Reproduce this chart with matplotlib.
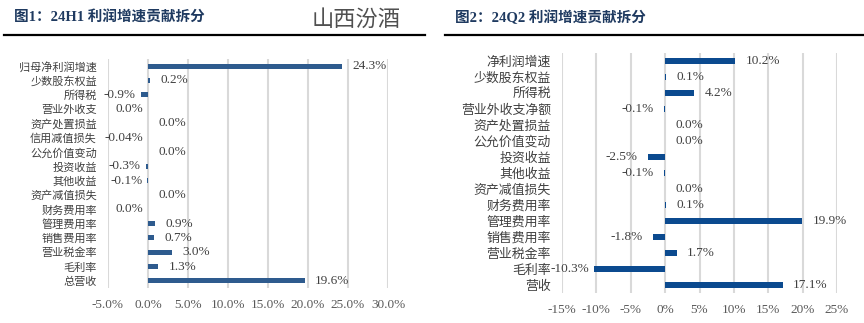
import matplotlib
matplotlib.use("Agg")
import matplotlib.pyplot as plt
from matplotlib.lines import Line2D

# 24H1 profit growth contribution breakdown (percentage points)
h1_categories = ["归母净利润增速", "少数股东权益", "所得税", "营业外收支", "资产处置损益",
                 "信用减值损失", "公允价值变动", "投资收益", "其他收益", "资产减值损失",
                 "财务费用率", "管理费用率", "销售费用率", "营业税金率", "毛利率", "总营收"]
h1_values = [24.3, 0.2, -0.9, -0.03, 0.0, -0.04, 0.0, -0.3, -0.1, 0.0,
             -0.03, 0.9, 0.7, 3.0, 1.3, 19.6]
h1_decimals = [1, 1, 1, 1, 1, 2, 1, 1, 1, 1, 1, 1, 1, 1, 1, 1]
h1_ticks = [-5, 0, 5, 10, 15, 20, 25, 30]

# 24Q2 profit growth contribution breakdown (percentage points)
q2_categories = ["净利润增速", "少数股东权益", "所得税", "营业外收支净额", "资产处置损益",
                 "公允价值变动", "投资收益", "其他收益", "资产减值损失", "财务费用率",
                 "管理费用率", "销售费用率", "营业税金率", "毛利率", "营收"]
q2_values = [10.2, 0.1, 4.2, -0.1, 0.0, 0.0, -2.5, -0.1, 0.0, 0.1,
             19.9, -1.8, 1.7, -10.3, 17.1]
q2_ticks = [-15, -10, -5, 0, 5, 10, 15, 20, 25]

SERIF = "Liberation Serif"
CJK = "Noto Sans CJK SC"
GRID = "#D9D9D9"
TXT = "#404040"


def fmt(v, d):
    s = f"{v:.{d}f}%"
    return "0.0%" if s == "-0.0%" else s


def draw(ax, cats, vals, decs, ticks, color, tick_fmt, cat_size, bar_h):
    y = list(range(len(cats)))
    ax.barh(y, vals, height=bar_h, color=color, zorder=3)
    ax.set_ylim(len(cats) - 0.5, -0.5)
    ax.set_xlim(ticks[0], ticks[-1])
    ax.set_xticks(ticks)
    ax.set_xticklabels([tick_fmt(t) for t in ticks], family=SERIF,
                       fontsize=9.5, color="#595959")
    ax.set_yticks(y)
    ax.set_yticklabels(cats, family=CJK, fontsize=cat_size, color=TXT)
    ax.tick_params(axis="both", length=0)
    ax.tick_params(axis="y", pad=8)
    ax.tick_params(axis="x", pad=8)
    for s in ax.spines.values():
        s.set_visible(False)
    ax.grid(axis="x", color=GRID, linewidth=1.5, zorder=0)
    for yi, v, d in zip(y, vals, decs):
        if v >= 0:
            off = 7.5
        elif v - ticks[0] < 6:
            # keep labels of long negative bars close to the bar end
            off = -3.5
        else:
            off = -7.5
        ax.annotate(fmt(v, d), (v, yi), xytext=(off, 0), textcoords="offset points",
                    ha="left" if v >= 0 else "right", va="center",
                    family=SERIF, fontsize=9.5, color=TXT, zorder=4)


fig = plt.figure(figsize=(8.64, 3.23), dpi=100)

ax1 = fig.add_axes([108 / 864, 35 / 323, 280 / 864, 229 / 323])
draw(ax1, h1_categories, h1_values, h1_decimals, h1_ticks, "#2E5B8E",
     lambda t: f"{t:.1f}%", 8.0, 0.36)

ax2 = fig.add_axes([562 / 864, 30 / 323, 275 / 864, 240 / 323])
draw(ax2, q2_categories, q2_values, [1] * len(q2_values), q2_ticks, "#0B4A8F",
     lambda t: f"{t:d}%", 9.3, 0.32)

# Headers
title_fam = [SERIF, CJK]
fig.text(14 / 864, 1 - 18 / 323, "图1：24H1 利润增速贡献拆分", family=title_fam,
         fontsize=10.5, fontweight="bold", color="#1F3A60", va="center", ha="left")
fig.text(455 / 864, 1 - 18 / 323, "图2：24Q2 利润增速贡献拆分", family=title_fam,
         fontsize=10.5, fontweight="bold", color="#1F3A60", va="center", ha="left")
fig.text(312 / 864, 1 - 19 / 323, "山西汾酒", family=CJK, fontsize=16,
         color="#505050", va="center", ha="left")

fig.add_artist(Line2D([4 / 864, 425 / 864], [1 - 34.5 / 323] * 2, color="black",
                      linewidth=1.6, transform=fig.transFigure))
fig.add_artist(Line2D([445 / 864, 864 / 864], [1 - 34.5 / 323] * 2, color="black",
                      linewidth=1.6, transform=fig.transFigure))

fig.savefig("out.png", dpi=100)
